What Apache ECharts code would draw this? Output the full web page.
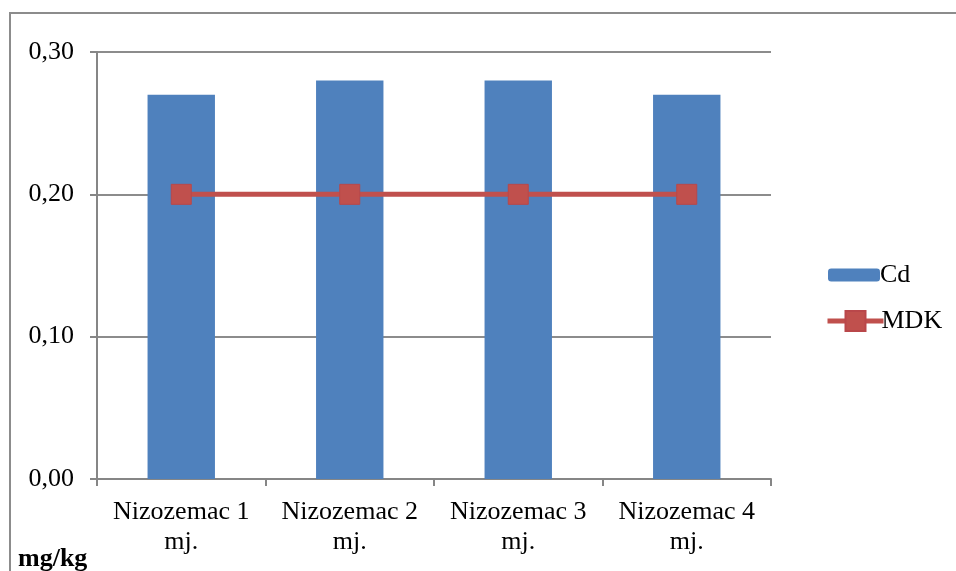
<!DOCTYPE html>
<html><head><meta charset="utf-8">
<script src="https://cdn.jsdelivr.net/npm/echarts@6/dist/echarts.min.js"></script>
<style>html,body{margin:0;padding:0;background:#fff}#c{width:956px;height:571px}</style>
</head><body><div id="c"></div>
<script>
const categories = ['Nizozemac 1\nmj.', 'Nizozemac 2\nmj.', 'Nizozemac 3\nmj.', 'Nizozemac 4\nmj.'];
const cdValues = [0.27, 0.28, 0.28, 0.27];
const mdkValues = [0.20, 0.20, 0.20, 0.20];
const unitLabel = 'mg/kg';

const FONT = '"Liberation Serif", "Times New Roman", serif';
const chart = echarts.init(document.getElementById('c'));
chart.setOption({
  animation: false,
  backgroundColor: '#fff',
  textStyle: { fontFamily: FONT },
  grid: { left: 97, top: 52, right: 185, bottom: 92, containLabel: false },
  graphic: [
    { type: 'rect', shape: { x: 10, y: 13, width: 1000, height: 700 }, style: { fill: 'none', stroke: '#8c8c8c', lineWidth: 2 }, silent: true, z: -1 },
    { type: 'text', left: 18, top: 546, style: { text: unitLabel, font: 'bold 26px ' + FONT, fill: '#000' } }
  ],
  legend: [
    { data: ['Cd'], left: 823, top: 257, itemWidth: 52, itemHeight: 13, itemGap: 0,
      textStyle: { fontFamily: FONT, fontSize: 26, color: '#000', padding: [0,0,0,-5] } },
    { data: ['MDK'], left: 820, top: 303, itemWidth: 56, itemHeight: 25, itemGap: 0,
      lineStyle: { width: 5 },
      textStyle: { fontFamily: FONT, fontSize: 26, color: '#000', padding: [0,0,0,-7] } }
  ],
  xAxis: {
    type: 'category', data: categories,
    axisLine: { lineStyle: { color: '#868686', width: 2 } },
    axisTick: { show: true, length: 7, lineStyle: { color: '#868686', width: 2 } },
    axisLabel: { color: '#000', fontFamily: FONT, fontSize: 26, lineHeight: 30, margin: 18, interval: 0 }
  },
  yAxis: {
    type: 'value', min: 0, max: 0.3, interval: 0.1,
    axisLine: { show: true, lineStyle: { color: '#868686', width: 2 } },
    axisTick: { show: true, length: 7, lineStyle: { color: '#868686', width: 2 } },
    splitLine: { lineStyle: { color: '#8c8c8c', width: 2 } },
    axisLabel: { color: '#000', fontFamily: FONT, fontSize: 26, margin: 23,
      formatter: v => v.toFixed(2).replace('.', ',') }
  },
  series: [
    { name: 'Cd', type: 'bar', data: cdValues, barWidth: '40%',
      itemStyle: { color: '#4F81BD' } },
    { name: 'MDK', type: 'line', data: mdkValues, symbol: 'rect', symbolSize: 20,
      lineStyle: { color: '#C0504D', width: 5 },
      itemStyle: { color: '#C0504D', borderColor: '#B9474A', borderWidth: 1 }, z: 5 }
  ]
});
</script></body></html>
